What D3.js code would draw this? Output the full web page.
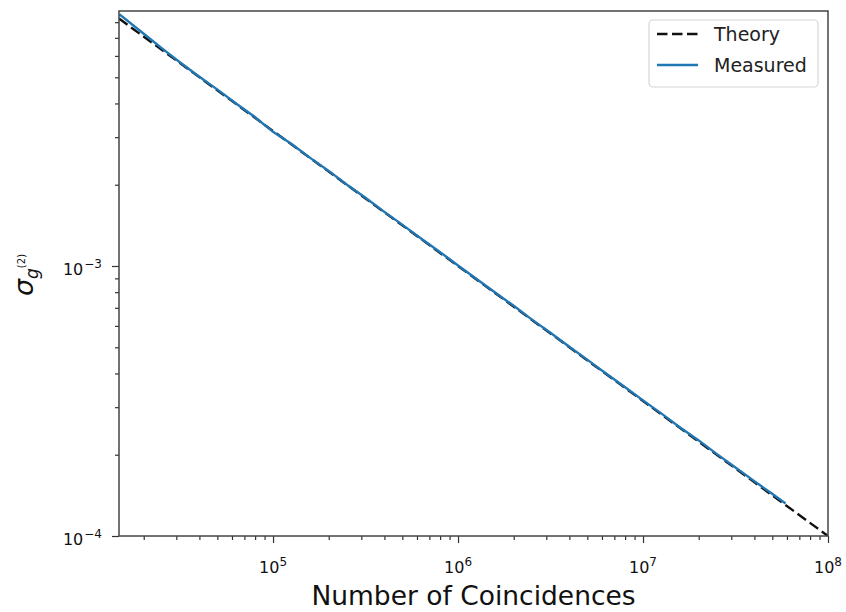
<!DOCTYPE html>
<html><head><meta charset="utf-8">
<script src="https://cdn.jsdelivr.net/npm/d3@7"></script>
<style>body{margin:0;background:#fff}svg{display:block;font-family:"DejaVu Sans",sans-serif}</style>
</head><body><svg id="c" width="846" height="612"></svg>
<script>
// Data
const theoryN = [1.47e4, 1e8];
const theorySigma = [8.25e-3, 1e-4];
const measuredN = [1.48e4, 2.0e4, 2.51e4, 3.16e4, 3.98e4, 5.01e4, 6.31e4, 7.94e4, 1.0e5, 1.26e5, 1.58e5, 2.0e5, 2.51e5, 3.16e5, 3.98e5, 5.01e5, 6.31e5, 7.94e5, 1.0e6, 1.26e6, 1.58e6, 2.0e6, 2.51e6, 3.16e6, 3.98e6, 5.01e6, 6.31e6, 7.94e6, 1.0e7, 1.26e7, 1.58e7, 2.0e7, 2.51e7, 3.16e7, 3.98e7, 5.01e7, 5.9e7];
const measuredSigma = [8.55e-3, 7.25e-3, 6.40e-3, 5.66e-3, 5.03e-3, 4.50e-3, 4.00e-3, 3.57e-3, 3.14e-3, 2.83e-3, 2.52e-3, 2.25e-3, 2.00e-3, 1.79e-3, 1.59e-3, 1.42e-3, 1.265e-3, 1.13e-3, 1.005e-3, 8.95e-4, 7.99e-4, 7.12e-4, 6.33e-4, 5.66e-4, 5.03e-4, 4.49e-4, 4.00e-4, 3.57e-4, 3.18e-4, 2.84e-4, 2.53e-4, 2.26e-4, 2.01e-4, 1.795e-4, 1.60e-4, 1.43e-4, 1.32e-4];
const xMajor = [1e5, 1e6, 1e7, 1e8];
const xMajorExp = ["5", "6", "7", "8"];
const yMajor = [1e-4, 1e-3];
const yMajorExp = ["\u22124", "\u22123"];
const seriesNames = ["Theory", "Measured"];

const L = 119, R = 828, T = 11, B = 536;
const svg = d3.select("#c");
const x = d3.scaleLog().domain([1.47e4, 1e8]).range([L, R]);
const y = d3.scaleLog().domain([1e-4, 8.8e-3]).range([B, T]);

// minor ticks
const xMinor = [];
for (let e = 4; e < 8; e++) for (let m = 2; m <= 9; m++) { const v = m * Math.pow(10, e); if (v >= 1.47e4 && v <= 1e8) xMinor.push(v); }
const yMinor = [];
for (let e = -4; e < -2; e++) for (let m = 2; m <= 9; m++) { const v = m * Math.pow(10, e); if (v <= 8.8e-3) yMinor.push(v); }

const tickColor = "#333";
const gx = svg.append("g").attr("transform", `translate(0,${B})`);
gx.call(d3.axisBottom(x).tickValues(xMinor).tickSize(4).tickFormat(""));
gx.append("g").call(d3.axisBottom(x).tickValues(xMajor).tickSize(7).tickFormat(""));
gx.selectAll(".domain").remove();
gx.selectAll("line").attr("stroke", tickColor).attr("stroke-width", 1.2);

const gy = svg.append("g").attr("transform", `translate(${L},0)`);
gy.call(d3.axisLeft(y).tickValues(yMinor).tickSize(4).tickFormat(""));
gy.append("g").call(d3.axisLeft(y).tickValues(yMajor).tickSize(7).tickFormat(""));
gy.selectAll(".domain").remove();
gy.selectAll("line").attr("stroke", tickColor).attr("stroke-width", 1.2);

// tick labels
xMajor.forEach((v, i) => {
  const t = svg.append("text").attr("x", x(v)).attr("y", 573).attr("text-anchor", "middle")
    .attr("font-size", 16).attr("fill", "#111");
  t.append("tspan").text("10");
  t.append("tspan").attr("dy", -7).attr("font-size", 12).text(xMajorExp[i]);
});
yMajor.forEach((v, i) => {
  const t = svg.append("text").attr("x", 102).attr("y", y(v) + 9).attr("text-anchor", "end")
    .attr("font-size", 16).attr("fill", "#111");
  t.append("tspan").text("10");
  t.append("tspan").attr("dy", -7).attr("dx", 1).attr("font-size", 12).text(yMajorExp[i]);
});

// lines (theory first, measured on top)
const clip = svg.append("clipPath").attr("id", "clip").append("rect")
  .attr("x", L).attr("y", T).attr("width", R - L).attr("height", B - T);
const line = d3.line().x(d => x(d[0])).y(d => y(d[1]));
const g = svg.append("g").attr("clip-path", "url(#clip)");
g.append("path").datum(theoryN.map((n, i) => [n, theorySigma[i]])).attr("d", line)
  .attr("fill", "none").attr("stroke", "#111").attr("stroke-width", 2.4).attr("stroke-dasharray", "10.5,4.5");
g.append("path").datum(measuredN.map((n, i) => [n, measuredSigma[i]])).attr("d", line)
  .attr("fill", "none").attr("stroke", "#1f77b4").attr("stroke-width", 2.4);

// frame
svg.append("rect").attr("x", L).attr("y", T).attr("width", R - L).attr("height", B - T)
  .attr("fill", "none").attr("stroke", "#444").attr("stroke-width", 1.5);

// legend
const lg = svg.append("g");
lg.append("rect").attr("x", 649).attr("y", 20).attr("width", 169).attr("height", 67).attr("rx", 4)
  .attr("fill", "#fff").attr("fill-opacity", 0.8).attr("stroke", "#d6d6d6").attr("stroke-width", 1.2);
const legendStyles = [{stroke: "#111", dash: "10.5,4.5"}, {stroke: "#1f77b4", dash: null}];
seriesNames.forEach((name, i) => {
  const yy = 34 + i * 31;
  lg.append("line").attr("x1", 657).attr("x2", 698).attr("y1", yy).attr("y2", yy)
    .attr("stroke", legendStyles[i].stroke).attr("stroke-width", 2.4).attr("stroke-dasharray", legendStyles[i].dash);
  lg.append("text").attr("x", 714).attr("y", yy + 7).attr("font-size", 19).attr("fill", "#222").text(name);
});

// axis labels
svg.append("text").attr("x", (L + R) / 2).attr("y", 605).attr("text-anchor", "middle")
  .attr("font-size", 26.5).attr("fill", "#111").text("Number of Coincidences");
const yl = svg.append("text").attr("transform", "translate(33,275) rotate(-90)").attr("text-anchor", "middle").attr("fill", "#111");
yl.append("tspan").attr("font-size", 27).attr("font-style", "italic").text("\u03c3");
yl.append("tspan").attr("font-size", 17).attr("font-style", "italic").attr("dy", 5).text("g");
yl.append("tspan").attr("font-size", 10).attr("dy", -13).text("(2)");
</script></body></html>
